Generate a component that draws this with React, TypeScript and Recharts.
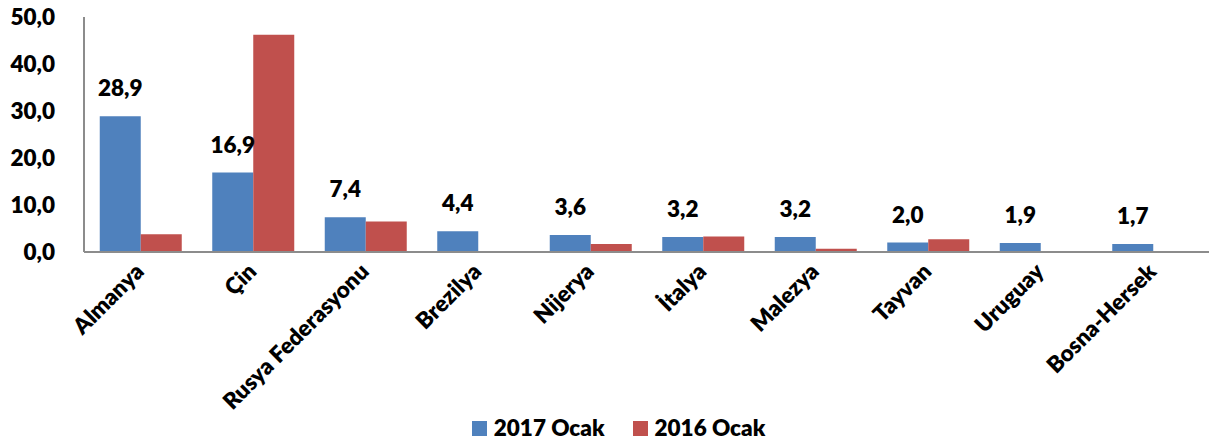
import { BarChart, Bar, XAxis, YAxis, LabelList } from "recharts";

const countries = [
  "Almanya",
  "Çin",
  "Rusya Federasyonu",
  "Brezilya",
  "Nijerya",
  "İtalya",
  "Malezya",
  "Tayvan",
  "Uruguay",
  "Bosna-Hersek",
];
const ocak2017 = [28.9, 16.9, 7.4, 4.4, 3.6, 3.2, 3.2, 2.0, 1.9, 1.7];
const ocak2016 = [3.8, 46.2, 6.5, 0, 1.7, 3.3, 0.7, 2.7, 0, 0];
const yTicks = [0, 10, 20, 30, 40, 50];

const BLUE = "#4F81BD";
const RED = "#C0504D";
const FONT = "Lato, 'Open Sans', sans-serif";
const FS = 22.5;

const data = countries.map((name, i) => ({
  name,
  v2017: ocak2017[i],
  v2016: ocak2016[i],
}));

const fmt = (v: number) => v.toFixed(1).replace(".", ",");

function CategoryTick(props: any) {
  const { x, y, payload } = props;
  return (
    <g transform={`translate(${x + 5},${y + 13})`}>
      <text
        textAnchor="end"
        transform="rotate(-45)"
        fontFamily={FONT}
        fontWeight={800}
        fontSize={FS}
        fill="#000"
      >
        {payload.value}
      </text>
    </g>
  );
}

function ValueLabel(props: any) {
  const { x, y, width, value } = props;
  return (
    <text
      x={x + width / 2}
      y={y - 20}
      textAnchor="middle"
      fontFamily={FONT}
      fontWeight={800}
      fontSize={FS}
      fill="#000"
    >
      {fmt(value)}
    </text>
  );
}

function LegendBox() {
  const items = [
    { label: "2017 Ocak", color: BLUE },
    { label: "2016 Ocak", color: RED },
  ];
  return (
    <div
      style={{
        position: "absolute",
        left: 0,
        top: 413,
        width: 1215,
        display: "flex",
        justifyContent: "center",
        gap: 28,
        paddingLeft: 22,
        boxSizing: "border-box",
        fontFamily: FONT,
        fontWeight: 800,
        fontSize: FS,
        lineHeight: "30px",
      }}
    >
      {items.map((it) => (
        <div key={it.label} style={{ display: "flex", alignItems: "center" }}>
          <span
            style={{
              width: 15,
              height: 15,
              background: it.color,
              display: "inline-block",
              marginRight: 7,
            }}
          />
          <span>{it.label}</span>
        </div>
      ))}
    </div>
  );
}

export default function App() {
  return (
    <div
      style={{
        position: "fixed",
        left: 0,
        top: 0,
        width: 1215,
        height: 447,
        background: "#fff",
      }}
    >
      <BarChart
        width={1215}
        height={447}
        data={data}
        margin={{ top: 17, right: 6, left: 0, bottom: 45 }}
        barCategoryGap="14%"
        barGap={0}
      >
        <XAxis
          dataKey="name"
          interval={0}
          height={150}
          tickLine={false}
          axisLine={{ stroke: "#8c8c8c", strokeWidth: 2 }}
          tick={<CategoryTick />}
        />
        <YAxis
          width={84}
          domain={[0, 50]}
          ticks={yTicks}
          tickLine={false}
          axisLine={{ stroke: "#8c8c8c", strokeWidth: 2 }}
          tickFormatter={fmt}
          tick={{
            fontFamily: FONT,
            fontWeight: 800,
            fontSize: FS,
            fill: "#000",
          }}
          tickMargin={23}
        />
        <Bar dataKey="v2017" fill={BLUE} isAnimationActive={false}>
          <LabelList dataKey="v2017" content={<ValueLabel />} />
        </Bar>
        <Bar dataKey="v2016" fill={RED} isAnimationActive={false} />
      </BarChart>
      <LegendBox />
    </div>
  );
}
